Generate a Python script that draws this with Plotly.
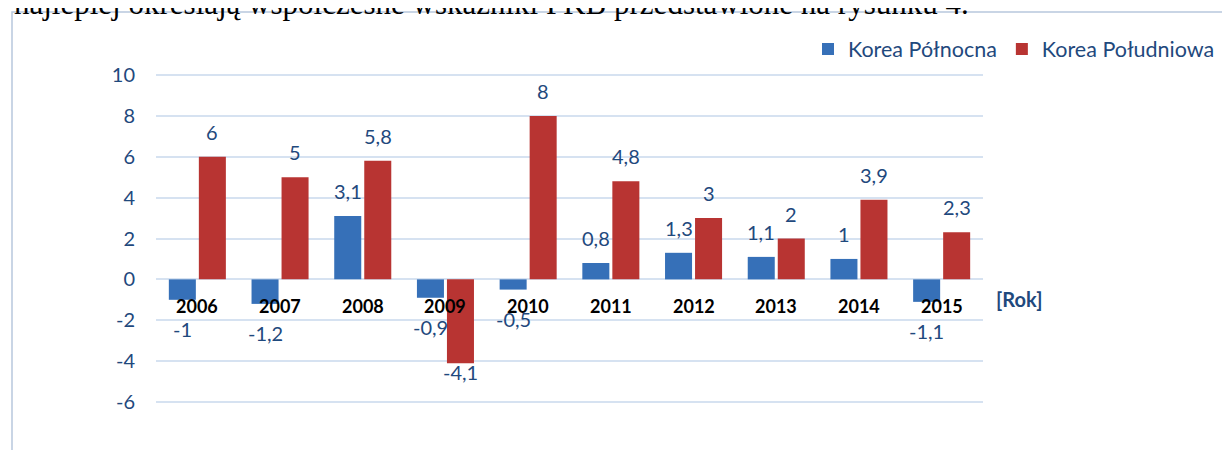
import plotly.graph_objects as go

# -- Data ---------------------------------------------------------------------

years = ["2006", "2007", "2008", "2009", "2010", "2011", "2012", "2013", "2014", "2015"]
korea_polnocna = [-1, -1.2, 3.1, -0.9, -0.5, 0.8, 1.3, 1.1, 1, -1.1]
korea_poludniowa = [6, 5, 5.8, -4.1, 8, 4.8, 3, 2, 3.9, 2.3]
series_names = ["Korea Północna", "Korea Południowa"]
y_ticks = [-6, -4, -2, 0, 2, 4, 6, 8, 10]
x_title = "[Rok]"
caption = "najlepiej określają współczesne wskaźniki PKB przedstawione na rysunku 4."

# -- Layout helpers -----------------------------------------------------------
# positions below are page pixels; the page body keeps its default 8px margin

OFF = 8
FW, FH = 1230 - OFF, 450 - OFF
P_LEFT, P_RIGHT, P_TOP, P_BOTTOM = 156, 983, 74, 403
PW, PH = P_RIGHT - P_LEFT, P_BOTTOM - P_TOP

BLUE = "#3670B8"
RED = "#B83432"
TEXT = "#1F497D"
GRID = "#D6E2F1"
FONT = "Lato"


def px_x(px):
    return (px - P_LEFT) / PW


def px_y(py):
    return (P_BOTTOM - py) / PH


def fmt(v):
    return f"{v:g}".replace(".", ",")


fig = go.Figure()
for name, vals, color in [
    (series_names[0], korea_polnocna, BLUE),
    (series_names[1], korea_poludniowa, RED),
]:
    fig.add_trace(go.Bar(x=years, y=vals, name=name, marker=dict(color=color, line_width=0)))

annotations = []

# value labels (outside end, like the Excel original)
label_nudge = {(1, 3): 20}  # South Korea 2009 label sits closer to its bar in the source
for s, (vals, dx) in enumerate([(korea_polnocna, -15), (korea_poludniowa, 15)]):
    for i, v in enumerate(vals):
        shift = 25 if v >= 0 else -29 + label_nudge.get((s, i), 0)
        annotations.append(dict(
            x=i, y=v, xref="x", yref="y", text=fmt(v), showarrow=False,
            xshift=dx, yshift=shift, yanchor="middle",
            font=dict(family=FONT, size=20, color=TEXT),
        ))

# category labels sitting just under the zero line
for i, yr in enumerate(years):
    annotations.append(dict(
        x=i, y=0, xref="x", yref="y", text=f"<b>{yr}</b>", showarrow=False,
        yshift=-27, yanchor="middle",
        font=dict(family=FONT, size=18, color="black"),
    ))

annotations.append(dict(
    x=px_x(1045), y=px_y(313), xref="paper", yref="paper", text=f"<b>{x_title}</b>",
    showarrow=False, font=dict(family=FONT, size=20, color=TEXT),
))

# clipped line of document text above the chart frame
annotations.append(dict(
    x=px_x(12), y=px_y(23), xref="paper", yref="paper", text=caption,
    showarrow=False, xanchor="left", yanchor="bottom",
    font=dict(family="Liberation Serif", size=31, color="black"),
))

fig.update_layout(
    width=FW, height=FH,
    margin=dict(l=P_LEFT - OFF, r=FW + OFF - P_RIGHT, t=P_TOP - OFF, b=FH + OFF - P_BOTTOM,
                pad=0, autoexpand=False),
    paper_bgcolor="white", plot_bgcolor="white",
    barmode="group", bargap=0.274, bargroupgap=0.1,
    font=dict(family=FONT, size=20, color=TEXT),
    showlegend=True,
    legend=dict(
        orientation="h", x=px_x(1220), xanchor="right", y=px_y(49), yanchor="middle",
        font=dict(family=FONT, size=21.5, color=TEXT), itemwidth=30,
        bgcolor="rgba(0,0,0,0)",
    ),
    xaxis=dict(type="category", range=[-0.5, len(years) - 0.5], showticklabels=False,
               showgrid=False, showline=False, ticks=""),
    yaxis=dict(
        range=[-6.05, 10.05], tickvals=y_ticks, ticktext=[str(t) for t in y_ticks],
        showgrid=True, gridcolor=GRID, gridwidth=2,
        zeroline=True, zerolinecolor=GRID, zerolinewidth=2,
        showline=False, ticks="", ticklabelstandoff=20,
        tickfont=dict(family=FONT, size=20, color=TEXT),
    ),
    annotations=annotations,
    shapes=[dict(
        type="rect", xref="paper", yref="paper",
        x0=px_x(12), x1=px_x(1260), y0=px_y(480), y1=px_y(12),
        line=dict(color="#B8C8DD", width=1.5), fillcolor="rgba(0,0,0,0)", layer="below",
    )],
)

fig.write_html("out.html")
